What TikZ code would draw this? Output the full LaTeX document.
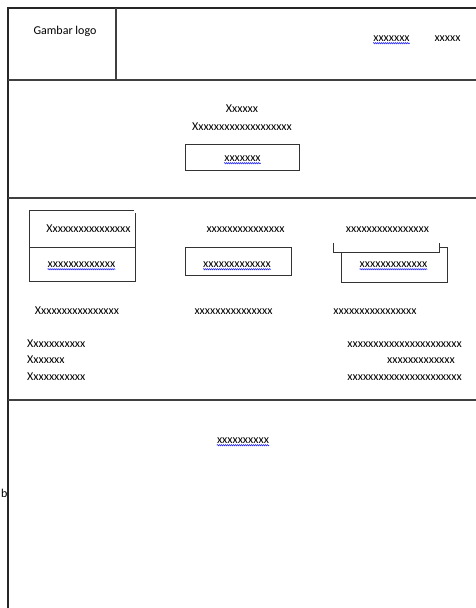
\documentclass[tikz,border=0pt]{standalone}
\usepackage{fontspec}
\setmainfont{Carlito}
\usetikzlibrary{decorations.pathmorphing}
\begin{document}
\begin{tikzpicture}[x=1pt,y=-1pt,
  frame/.style={line width=1.8pt, black!85},
  divider/.style={line width=1.2pt, black!75},
  boxline/.style={line width=0.9pt, black!80},
  txt/.style={inner sep=0pt, anchor=base, font=\fontsize{12}{14}\selectfont},
  txtw/.style={txt, anchor=base west},
  txte/.style={txt, anchor=base east},
  wavy/.style={blue!85, line width=0.6pt, decorate, decoration={snake, amplitude=0.6pt, segment length=2pt}}]
\useasboundingbox (0,0) rectangle (476,608);
% frame
\draw[frame] (8,608) -- (8,8) -- (476,8);
\draw[divider] (116,8) -- (116,80);
\draw[divider] (8,80) -- (476,80);
\draw[divider] (8,198) -- (476,198);
\draw[divider] (8,400) -- (476,400);
% header
\node[txt] (logo) at (65,34) {Gambar logo};
\node[txt] (h1) at (391.5,41) {xxxxxxx};
\node[txt] (h2) at (447.5,41) {xxxxx};
\draw[wavy] ([yshift=-2.2pt]h1.base west) -- ([yshift=-2.2pt]h1.base east);
% section 2
\node[txt] (t1) at (242,112) {Xxxxxx};
\node[txt] (t2) at (242,130) {Xxxxxxxxxxxxxxxxxxx};
\draw[boxline] (185,144) rectangle (299,170);
\node[txt] (b1) at (242.5,161) {xxxxxxx};
\draw[wavy] ([yshift=-2.2pt]b1.base west) -- ([yshift=-2.2pt]b1.base east);
% left group
\draw[boxline] (29,210) -- (134,210);
\draw[boxline] (135,213) -- (135,281) -- (29,281) -- (29,210);
\draw[boxline] (29,247) -- (135,247);
\node[txt] (l1) at (88.5,232) {Xxxxxxxxxxxxxxxx};
\node[txt] (l2) at (81.5,267) {xxxxxxxxxxxxx};
\draw[wavy] ([yshift=-2.2pt]l2.base west) -- ([yshift=-2.2pt]l2.base east);
% middle group
\node[txt] (m1) at (245.5,232) {xxxxxxxxxxxxxxx};
\draw[boxline] (185,247) rectangle (291,275);
\node[txt] (m2) at (237,267) {xxxxxxxxxxxxx};
\draw[wavy] ([yshift=-2.2pt]m2.base west) -- ([yshift=-2.2pt]m2.base east);
% right group
\node[txt] (r1) at (387.5,232) {xxxxxxxxxxxxxxxx};
\draw[boxline] (333,243) -- (333,252) -- (439,252) -- (439,243);
\draw[boxline] (439,247) -- (447,247) -- (447,282) -- (341,282) -- (341,252);
\node[txt] (r2) at (393.5,267) {xxxxxxxxxxxxx};
\draw[wavy] ([yshift=-2.2pt]r2.base west) -- ([yshift=-2.2pt]r2.base east);
% row
\node[txt] (w1) at (77,314) {Xxxxxxxxxxxxxxxx};
\node[txt] (w2) at (233.5,314) {xxxxxxxxxxxxxxx};
\node[txt] (w3) at (375,314) {xxxxxxxxxxxxxxxx};
% left column
\node[txtw] (c1) at (27,347) {Xxxxxxxxxxx};
\node[txtw] (c2) at (27,363.5) {Xxxxxxx};
\node[txtw] (c3) at (27,380) {Xxxxxxxxxxx};
% right column
\node[txte] (d1) at (462,347) {xxxxxxxxxxxxxxxxxxxxxx};
\node[txte] (d2) at (455,363.5) {xxxxxxxxxxxxx};
\node[txte] (d3) at (462,380) {xxxxxxxxxxxxxxxxxxxxxx};
% bottom
\node[txt] (f1) at (243,443) {xxxxxxxxxx};
\draw[wavy] ([yshift=-2.2pt]f1.base west) -- ([yshift=-2.2pt]f1.base east);
\node[txtw] (bb) at (1,497) {b};
\end{tikzpicture}
\end{document}
